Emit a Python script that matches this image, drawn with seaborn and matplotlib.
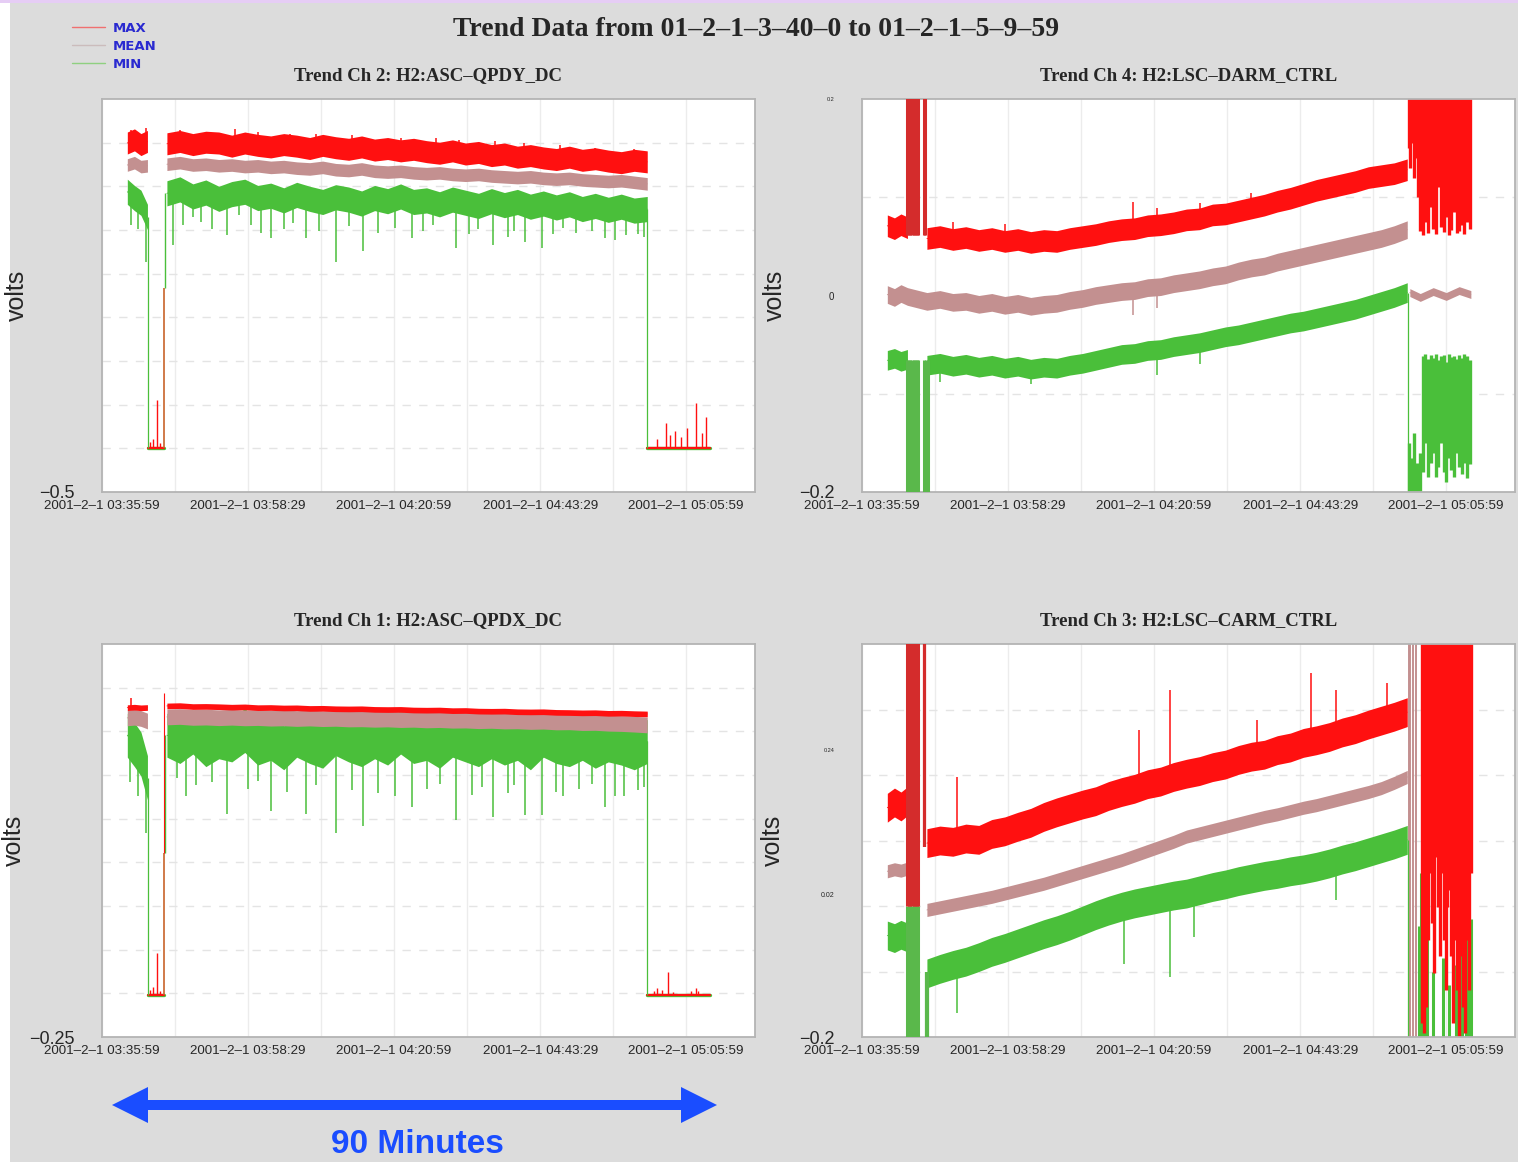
import numpy as np
import pandas as pd
import matplotlib
matplotlib.use("Agg")
import matplotlib.pyplot as plt
import seaborn as sns
from matplotlib.lines import Line2D
from matplotlib.patches import Rectangle, Polygon
from matplotlib.transforms import Affine2D

# ---------------------------------------------------------------- text / labels
SUPTITLE = "Trend Data from 01–2–1–3–40–0 to 01–2–1–5–9–59"
SERIES = ["MAX", "MEAN", "MIN"]
TITLE_TL = "Trend Ch 2: H2:ASC–QPDY_DC"
TITLE_TR = "Trend Ch 4: H2:LSC–DARM_CTRL"
TITLE_BL = "Trend Ch 1: H2:ASC–QPDX_DC"
TITLE_BR = "Trend Ch 3: H2:LSC–CARM_CTRL"
YLABEL = "volts"
X_TICKS = [0, 22.5, 45, 67.5, 90]
X_TICK_LABELS = ["2001–2–1 03:35:59", "2001–2–1 03:58:29", "2001–2–1 04:20:59",
                 "2001–2–1 04:43:29", "2001–2–1 05:05:59"]
X_GRID = [11.25, 22.5, 33.75, 45, 56.25, 67.5, 78.75, 90]
ANNOT = "90 Minutes"

# minutes after 03:35:59
T_PRE = [3.9, 5.0, 6.0, 7.0]
T_MAIN = [10, 12, 14, 16, 18, 20, 22, 24, 26, 28, 30, 32, 34, 36, 38, 40, 42, 44, 46,
          48, 50, 52, 54, 56, 58, 60, 62, 64, 66, 68, 70, 72, 74, 76, 78, 80, 82, 84]

# ---------------------------------------------------------------- Ch 2 (top left)
TL_YLIM = (-0.5, 0.0)
TL_YTICKS = [-0.5]
TL_YTICK_LABELS = ["−0.5"]
TL_MAX_PRE = [-0.056, -0.052, -0.058, -0.054]
TL_MEAN_PRE = [-0.084, -0.081, -0.086, -0.085]
TL_MIN_PRE = [-0.118, -0.126, -0.132, -0.150]
TL_MAX = [-0.057, -0.054, -0.058, -0.055, -0.056, -0.060, -0.056, -0.059, -0.061, -0.058,
          -0.060, -0.063, -0.059, -0.062, -0.064, -0.061, -0.065, -0.063, -0.066, -0.064,
          -0.067, -0.069, -0.066, -0.070, -0.068, -0.072, -0.070, -0.074, -0.072, -0.075,
          -0.077, -0.074, -0.078, -0.076, -0.079, -0.081, -0.078, -0.080]
TL_MEAN = [-0.083, -0.081, -0.084, -0.083, -0.085, -0.084, -0.086, -0.085, -0.087, -0.086,
           -0.088, -0.089, -0.087, -0.090, -0.091, -0.089, -0.092, -0.093, -0.092, -0.094,
           -0.095, -0.094, -0.096, -0.097, -0.096, -0.098, -0.099, -0.100, -0.099, -0.101,
           -0.102, -0.101, -0.103, -0.104, -0.105, -0.104, -0.106, -0.108]
TL_MIN = [-0.120, -0.115, -0.124, -0.119, -0.127, -0.121, -0.118, -0.126, -0.123, -0.129,
          -0.122, -0.127, -0.131, -0.125, -0.128, -0.133, -0.126, -0.130, -0.124, -0.131,
          -0.129, -0.134, -0.128, -0.132, -0.136, -0.130, -0.135, -0.131, -0.137, -0.133,
          -0.138, -0.134, -0.140, -0.136, -0.141, -0.137, -0.142, -0.140]
TL_HW = [0.014, 0.008, 0.016]
TL_MIN_SPIKE_T = [4.5, 5.5, 6.8, 11.0, 12.5, 14.0, 15.3, 17.0, 19.2, 21.1, 23.0, 24.5, 26.0,
                  28.0, 29.5, 31.5, 33.5, 36.0, 38.0, 40.2, 42.5, 45.1, 47.7, 49.5, 51.0, 54.5,
                  56.5, 58.0, 60.3, 62.5, 63.5, 65.2, 67.8, 69.5, 71.0, 73.0, 75.5, 77.5, 79.0,
                  80.8, 82.5, 83.5]
TL_MIN_SPIKE_V = [-0.160, -0.165, -0.207, -0.186, -0.160, -0.150, -0.156, -0.165, -0.173, -0.148,
                  -0.160, -0.170, -0.177, -0.165, -0.158, -0.177, -0.168, -0.207, -0.162, -0.194,
                  -0.170, -0.164, -0.177, -0.168, -0.160, -0.190, -0.172, -0.165, -0.186, -0.175,
                  -0.168, -0.182, -0.190, -0.172, -0.164, -0.170, -0.168, -0.177, -0.180, -0.173,
                  -0.172, -0.175]
TL_MAX_SPIKE_T = [4.5, 6.8, 12.0, 16.5, 20.5, 24.0, 29.0, 33.0, 38.5, 46.0, 51.5, 55.0, 60.5,
                  65.0, 70.5, 76.0, 82.0]
TL_MAX_SPIKE_V = [-0.040, -0.037, -0.040, -0.042, -0.038, -0.042, -0.044, -0.045, -0.046,
                  -0.050, -0.049, -0.052, -0.054, -0.056, -0.058, -0.062, -0.064]
TL_BASE = -0.444
TL_DROP = [7.1, 9.5]
TL_END = [84.0, 93.7]
TL_RESUME = -0.240
TL_BASE_SPIKE_T = [7.4, 7.9, 8.4, 9.0, 85.5, 86.9, 87.5, 88.2, 89.2, 90.1, 91.5, 92.4, 93.1]
TL_BASE_SPIKE_V = [-0.436, -0.432, -0.383, -0.438, -0.432, -0.412, -0.428, -0.423, -0.430,
                   -0.419, -0.387, -0.425, -0.404]

# ---------------------------------------------------------------- Ch 1 (bottom left)
BL_YLIM = (-0.25, 0.0)
BL_YTICKS = [-0.25]
BL_YTICK_LABELS = ["−0.25"]
BL_MAX_PRE = [-0.0405, -0.0402, -0.0406, -0.0404]
BL_MEAN_PRE = [-0.0470, -0.0466, -0.0474, -0.0490]
BL_MIN_PRE = [-0.058, -0.064, -0.070, -0.085]
BL_MAX = [-0.0394, -0.0392, -0.0398, -0.0397, -0.0399, -0.0402, -0.0400, -0.0405, -0.0404,
          -0.0407, -0.0406, -0.0410, -0.0409, -0.0412, -0.0413, -0.0412, -0.0416, -0.0417,
          -0.0416, -0.0420, -0.0421, -0.0420, -0.0424, -0.0423, -0.0427, -0.0428, -0.0427,
          -0.0431, -0.0432, -0.0431, -0.0435, -0.0436, -0.0438, -0.0437, -0.0441, -0.0440,
          -0.0443, -0.0445]
BL_MEAN = [-0.0464, -0.0461, -0.0467, -0.0465, -0.0469, -0.0466, -0.0470, -0.0468, -0.0472,
           -0.0470, -0.0474, -0.0471, -0.0475, -0.0473, -0.0477, -0.0476, -0.0479, -0.0477,
           -0.0481, -0.0479, -0.0483, -0.0481, -0.0485, -0.0484, -0.0488, -0.0486, -0.0490,
           -0.0489, -0.0493, -0.0491, -0.0496, -0.0495, -0.0500, -0.0499, -0.0504, -0.0506,
           -0.0510, -0.0515]
BL_MIN = [-0.058, -0.062, -0.056, -0.064, -0.059, -0.061, -0.055, -0.063, -0.060, -0.066,
          -0.058, -0.062, -0.065, -0.057, -0.061, -0.064, -0.059, -0.063, -0.056, -0.062,
          -0.060, -0.065, -0.058, -0.061, -0.064, -0.059, -0.063, -0.060, -0.066, -0.058,
          -0.062, -0.064, -0.060, -0.065, -0.061, -0.063, -0.066, -0.062]
BL_HW = [0.0018, 0.005, 0.014]
BL_MIN_SPIKE_T = [4.3, 5.6, 6.8, 11.5, 13.0, 14.5, 17.0, 19.2, 22.5, 24.0, 26.0, 28.5, 31.5,
                  33.0, 36.0, 38.5, 40.2, 42.5, 45.1, 47.7, 50.0, 52.0, 54.5, 57.0, 58.5, 60.3,
                  62.5, 63.5, 65.2, 67.8, 70.0, 71.0, 73.5, 75.5, 77.5, 79.0, 80.4, 82.5, 83.5]
BL_MIN_SPIKE_V = [-0.088, -0.097, -0.120, -0.085, -0.097, -0.090, -0.088, -0.108, -0.092, -0.087,
                  -0.106, -0.094, -0.108, -0.090, -0.120, -0.093, -0.116, -0.095, -0.097, -0.104,
                  -0.092, -0.089, -0.112, -0.096, -0.091, -0.110, -0.095, -0.090, -0.109, -0.109,
                  -0.094, -0.097, -0.092, -0.089, -0.104, -0.097, -0.097, -0.093, -0.091]
BL_MAX_SPIKE_T = [4.5]
BL_MAX_SPIKE_V = [-0.0344]
BL_BASE = -0.2233
BL_DROP = [7.1, 9.5]
BL_END = [84.0, 93.7]
BL_RESUME = -0.133
BL_BASE_SPIKE_T = [7.4, 7.9, 8.4, 9.0, 85.0, 85.5, 86.3, 87.2, 88.0, 90.8, 91.5, 91.8]
BL_BASE_SPIKE_V = [-0.220, -0.218, -0.1966, -0.221, -0.221, -0.219, -0.220, -0.2085, -0.2215,
                   -0.221, -0.219, -0.2205]

# ---------------------------------------------------------------- Ch 4 (top right)
TR_YLIM = (-0.2, 0.2)
TR_YTICKS = [-0.2, 0.0, 0.2]
TR_YTICK_LABELS = ["−0.2", "0", "0.2"]
TR_MAX_PRE = [0.071, 0.068, 0.072, 0.069]
TR_MEAN_PRE = [0.001, -0.002, 0.002, -0.001]
TR_MIN_PRE = [-0.066, -0.064, -0.067, -0.065]
TR_MAX = [0.058, 0.060, 0.057, 0.059, 0.056, 0.058, 0.055, 0.057, 0.054, 0.056,
          0.055, 0.058, 0.060, 0.062, 0.065, 0.067, 0.068, 0.071, 0.072, 0.074,
          0.077, 0.078, 0.082, 0.083, 0.086, 0.089, 0.092, 0.096, 0.099, 0.103,
          0.107, 0.110, 0.113, 0.116, 0.120, 0.122, 0.124, 0.128]
TR_MEAN = [-0.006, -0.004, -0.007, -0.006, -0.009, -0.007, -0.010, -0.008, -0.011, -0.009,
           -0.008, -0.005, -0.003, 0.000, 0.002, 0.004, 0.005, 0.008, 0.009, 0.012,
           0.014, 0.016, 0.019, 0.021, 0.025, 0.028, 0.030, 0.034, 0.037, 0.040,
           0.043, 0.046, 0.049, 0.052, 0.055, 0.058, 0.062, 0.067]
TR_MIN = [-0.071, -0.069, -0.072, -0.070, -0.073, -0.071, -0.074, -0.072, -0.075, -0.073,
          -0.074, -0.071, -0.069, -0.066, -0.063, -0.060, -0.059, -0.056, -0.055, -0.052,
          -0.050, -0.048, -0.045, -0.042, -0.040, -0.037, -0.034, -0.031, -0.028, -0.026,
          -0.023, -0.020, -0.017, -0.014, -0.010, -0.006, -0.002, 0.003]
TR_HW = [0.011, 0.009, 0.010]
TR_MAX_SPIKE_T = [14.0, 22.0, 41.7, 45.5, 52.0, 60.0]
TR_MAX_SPIKE_V = [0.075, 0.073, 0.0955, 0.089, 0.094, 0.104]
TR_MEAN_SPIKE_T = [41.7, 45.5]
TR_MEAN_SPIKE_V = [-0.020, -0.013]
TR_MIN_SPIKE_T = [12.0, 26.0, 45.5, 52.0]
TR_MIN_SPIKE_V = [-0.088, -0.090, -0.081, -0.070]
TR_GLITCH_MAX_T = [6.95, 7.2, 7.45, 7.7, 7.95, 8.2, 8.45, 8.7, 9.5, 9.75]
TR_GLITCH_MAX_LO = 0.062
TR_GLITCH_MIN_T = [6.95, 7.2, 7.45, 7.7, 7.95, 8.2, 8.45, 8.7, 9.55, 9.8, 10.1]
TR_GLITCH_MIN_HI = -0.066
TR_CHAOS_MAX_T = [84.2, 84.5, 84.8, 85.1, 85.4, 85.7, 86.0, 86.4, 86.8, 87.2, 87.6, 88.0, 88.4,
                  88.8, 89.2, 89.6, 90.0, 90.4, 90.8, 91.2, 91.6, 92.0, 92.4, 92.8, 93.2, 93.6]
TR_CHAOS_MAX_LO = [0.150, 0.130, 0.155, 0.120, 0.140, 0.100, 0.066, 0.062, 0.075, 0.064,
                   0.090, 0.068, 0.063, 0.110, 0.070, 0.065, 0.080, 0.062, 0.067, 0.085,
                   0.064, 0.066, 0.072, 0.063, 0.075, 0.068]
TR_CHAOS_MIN_T = [84.3, 84.7, 85.1, 85.5, 85.9, 86.4, 86.8, 87.2, 87.6, 88.0, 88.4, 88.8,
                  89.2, 89.6, 90.0, 90.4, 90.8, 91.2, 91.6, 92.0, 92.4, 92.8, 93.2, 93.6]
TR_CHAOS_MIN_HI = [-0.150, -0.165, -0.140, -0.170, -0.160, -0.062, -0.060, -0.065, -0.061,
                   -0.064, -0.060, -0.066, -0.062, -0.061, -0.068, -0.060, -0.063, -0.062,
                   -0.065, -0.061, -0.064, -0.060, -0.062, -0.066]
TR_CHAOS_MIN_LO = [-0.21, -0.21, -0.21, -0.21, -0.21, -0.180, -0.150, -0.185, -0.170, -0.160,
                   -0.185, -0.175, -0.150, -0.180, -0.190, -0.165, -0.178, -0.185, -0.160,
                   -0.175, -0.182, -0.170, -0.186, -0.172]
TR_MEAN_END_T = [84.4, 86.0, 88.0, 90.0, 92.0, 93.8]
TR_MEAN_END = [0.003, -0.002, 0.004, -0.001, 0.005, 0.001]

# ---------------------------------------------------------------- Ch 3 (bottom right)
BR_YLIM = (-0.2, 0.4)
BR_YTICKS = [-0.2, 0.017, 0.238]
BR_YTICK_LABELS = ["−0.2", "0.02", "0.24"]
BR_MAX_PRE = [0.150, 0.158, 0.152, 0.160]
BR_MEAN_PRE = [0.053, 0.056, 0.054, 0.057]
BR_MIN_PRE = [-0.045, -0.049, -0.044, -0.048]
BR_MAX = [0.096, 0.100, 0.098, 0.103, 0.101, 0.110, 0.114, 0.121, 0.127, 0.136,
          0.143, 0.149, 0.155, 0.160, 0.168, 0.174, 0.179, 0.186, 0.190, 0.197,
          0.202, 0.206, 0.212, 0.216, 0.223, 0.228, 0.231, 0.238, 0.242, 0.249,
          0.253, 0.258, 0.265, 0.270, 0.277, 0.283, 0.289, 0.296]
BR_MEAN = [-0.006, -0.002, 0.002, 0.006, 0.010, 0.014, 0.019, 0.024, 0.029, 0.034,
           0.040, 0.046, 0.052, 0.058, 0.064, 0.070, 0.077, 0.084, 0.091, 0.098,
           0.106, 0.111, 0.116, 0.121, 0.126, 0.131, 0.136, 0.140, 0.145, 0.150,
           0.154, 0.159, 0.164, 0.169, 0.174, 0.180, 0.188, 0.197]
BR_MIN = [-0.103, -0.096, -0.090, -0.085, -0.078, -0.070, -0.064, -0.057, -0.050, -0.043,
          -0.037, -0.030, -0.022, -0.014, -0.007, -0.001, 0.004, 0.008, 0.012, 0.016,
          0.019, 0.024, 0.029, 0.033, 0.038, 0.042, 0.046, 0.049, 0.053, 0.056,
          0.060, 0.065, 0.071, 0.076, 0.082, 0.088, 0.094, 0.101]
BR_HW = [0.022, 0.010, 0.022]
BR_MAX_SPIKE_T = [14.6, 42.7, 47.5, 60.8, 69.2, 73.1, 80.9]
BR_MAX_SPIKE_V = [0.197, 0.269, 0.330, 0.284, 0.355, 0.330, 0.340]
BR_MIN_SPIKE_T = [14.6, 40.4, 47.5, 51.1, 73.1]
BR_MIN_SPIKE_V = [-0.164, -0.088, -0.108, -0.047, 0.009]
BR_GLITCH_T = [6.95, 7.2, 7.45, 7.7, 7.95, 8.2, 8.45, 8.7]
BR_GLITCH_SPLIT = 0.0
BR_GLITCH_MAX_LINE_T = [9.5, 9.75]
BR_GLITCH_MAX_LINE_LO = 0.09
BR_GLITCH_MIN_LINE_T = [9.9, 10.15]
BR_GLITCH_MIN_LINE_HI = -0.10
BR_CHAOS_MEAN_T = [84.2, 84.5, 84.9, 85.3]
BR_CHAOS_MAX_T = [86.3, 86.6, 86.9, 87.2, 87.5, 87.8, 88.1, 88.4, 88.7, 89.0, 89.3, 89.6, 89.9,
                  90.2, 90.5, 90.8, 91.1, 91.4, 91.7, 92.0, 92.3, 92.6, 92.9, 93.2, 93.5, 93.8]
BR_CHAOS_MAX_LO = [-0.179, -0.194, -0.154, -0.052, 0.050, -0.026, -0.103, 0.075, -0.001, -0.077,
                   0.050, -0.052, -0.128, -0.001, 0.024, -0.077, -0.179, -0.052, -0.128, -0.205,
                   -0.077, -0.154, -0.194, -0.052, -0.128, 0.050]
BR_CHAOS_MIN_T = [85.8, 86.1, 86.4, 86.7, 87.0, 88.0, 89.5, 90.5, 91.5, 92.5, 93.0, 93.4, 93.8]
BR_CHAOS_MIN_HI = [-0.03, 0.05, 0.02, 0.06, -0.05, -0.10, -0.08, -0.12, -0.09, -0.06, 0.05,
                   0.03, -0.02]

# ---------------------------------------------------------------- style
W, H = 1518, 1162
C_MAX, C_MEAN, C_MIN = "#ff1010", "#c39090", "#4abf3a"
C_GMAX, C_GMIN, C_ORANGE = "#d42c2c", "#5ab84b", "#c8642a"
BG = "#dcdcdc"

sns.set_style("white")
plt.rcParams["font.family"] = ["Liberation Sans", "DejaVu Sans"]

fig = plt.figure(figsize=(W / 100, H / 100), dpi=100)
fig.patch.set_facecolor("white")
pxT = Affine2D().scale(1 / W, -1 / H).translate(0, 1) + fig.transFigure
fig.add_artist(Rectangle((10, 3), W - 10, H - 3, transform=pxT, facecolor=BG,
                         edgecolor="none", zorder=-10))
fig.add_artist(Rectangle((0, 0), W, 3, transform=pxT, facecolor="#e6cdf5",
                         edgecolor="none", zorder=-10))


def band(ax, t, c, hw, color, lw=0.6):
    t = np.asarray(t, float)
    c = np.asarray(c, float)
    df = pd.DataFrame({"time": np.concatenate([t, t]),
                       "volts": np.concatenate([c - hw, c + hw])})
    sns.lineplot(data=df, x="time", y="volts", ax=ax, color=color, linewidth=lw,
                 estimator="mean", errorbar=("pi", 100),
                 err_kws={"alpha": 1.0, "linewidth": 0}, legend=False)


def spikes(ax, t, c, st, sv, color, lw=1.1):
    base = np.interp(st, t, c)
    ax.vlines(st, base, sv, color=color, lw=lw, zorder=1.5)


def setup(ax, title, ylim, yticks, ylabels, hdiv, ylab_x, yfs=None):
    ax.set_xlim(0, 100.6)
    ax.set_ylim(*ylim)
    ax.set_facecolor("white")
    ax.set_title(title, fontsize=13.5, family=["Liberation Serif", "DejaVu Serif"],
                 weight="bold", pad=14)
    ax.set_xticks(X_TICKS)
    ax.set_xticklabels(X_TICK_LABELS, fontsize=9.6)
    ax.set_xticks(X_GRID, minor=True)
    ax.set_yticks(yticks)
    ax.set_yticklabels(ylabels, fontsize=13)
    if yfs is not None:
        for lab, fs in zip(ax.get_yticklabels(), yfs):
            lab.set_fontsize(fs)
    hg = [ylim[0] + (ylim[1] - ylim[0]) * k / hdiv for k in range(1, hdiv)]
    ax.set_yticks(hg, minor=True)
    ax.tick_params(axis="both", which="both", length=0)
    ax.tick_params(axis="x", pad=6)
    ax.tick_params(axis="y", pad=20)
    ax.grid(True, which="minor", axis="x", color="#ececec", lw=1.0)
    ax.grid(True, which="major", axis="x", color="#ececec", lw=1.0)
    ax.grid(True, which="minor", axis="y", color="#e4e4e4", lw=1.0, ls=(0, (6, 6)))
    ax.set_axisbelow(True)
    ax.set_xlabel("")
    ax.set_ylabel(YLABEL, fontsize=18)
    ax.yaxis.set_label_coords(ylab_x, 0.5)
    for s in ax.spines.values():
        s.set_color("#b4b4b4")
        s.set_linewidth(1.3)


AX_W, AX_H = 653 / W, 393 / H
ax_tl = fig.add_axes([102 / W, 1 - 492 / H, AX_W, AX_H])
ax_tr = fig.add_axes([862 / W, 1 - 492 / H, AX_W, AX_H])
ax_bl = fig.add_axes([102 / W, 1 - 1037 / H, AX_W, AX_H])
ax_br = fig.add_axes([862 / W, 1 - 1037 / H, AX_W, AX_H])


# ---------------- QPD panels (left column)
def qpd_panel(ax, pre, main, hw, min_sp, max_sp, base, drop, end, resume, base_sp, red_top=None):
    (mx_p, me_p, mn_p), (mx, me, mn) = pre, main
    for t0, t1 in (drop, end):
        ax.plot([t0, t1], [base, base], color=C_MIN, lw=2.4, zorder=1.2)
        ax.plot([t0, t1], [base, base], color=C_MAX, lw=1.6, zorder=1.3)
    ax.vlines(base_sp[0], base, base_sp[1], color=C_MAX, lw=1.0, zorder=1.3)
    ax.vlines([drop[0]], base, mn_p[-1], color=C_MIN, lw=0.9)
    ax.vlines([drop[1]], base, resume, color=C_ORANGE, lw=1.2)
    ax.vlines([drop[1] + 0.25], resume, mn[0], color=C_MIN, lw=1.0)
    if red_top is not None:
        ax.vlines([drop[1] + 0.1], resume, red_top, color=C_MAX, lw=0.8)
    ax.vlines([end[0]], base, mn[-1], color=C_MIN, lw=0.9)
    spikes(ax, T_PRE + T_MAIN, mn_p + mn, min_sp[0], min_sp[1], C_MIN)
    for seg_t, vals in ((T_PRE, (mx_p, me_p, mn_p)), (T_MAIN, (mx, me, mn))):
        band(ax, seg_t, vals[2], hw[2], C_MIN)
        band(ax, seg_t, vals[1], hw[1], C_MEAN)
        band(ax, seg_t, vals[0], hw[0], C_MAX)
    spikes(ax, T_PRE + T_MAIN, mx_p + mx, max_sp[0], max_sp[1], C_MAX)


qpd_panel(ax_tl, (TL_MAX_PRE, TL_MEAN_PRE, TL_MIN_PRE), (TL_MAX, TL_MEAN, TL_MIN), TL_HW,
          (TL_MIN_SPIKE_T, TL_MIN_SPIKE_V), (TL_MAX_SPIKE_T, TL_MAX_SPIKE_V),
          TL_BASE, TL_DROP, TL_END, TL_RESUME, (TL_BASE_SPIKE_T, TL_BASE_SPIKE_V))
qpd_panel(ax_bl, (BL_MAX_PRE, BL_MEAN_PRE, BL_MIN_PRE), (BL_MAX, BL_MEAN, BL_MIN), BL_HW,
          (BL_MIN_SPIKE_T, BL_MIN_SPIKE_V), (BL_MAX_SPIKE_T, BL_MAX_SPIKE_V),
          BL_BASE, BL_DROP, BL_END, BL_RESUME, (BL_BASE_SPIKE_T, BL_BASE_SPIKE_V),
          red_top=-0.031)

# ---------------- Ch 4 (top right)
ax = ax_tr
ax.vlines(TR_CHAOS_MIN_T, TR_CHAOS_MIN_LO, TR_CHAOS_MIN_HI, color=C_MIN, lw=2.4, zorder=1.1)
ax.vlines(TR_CHAOS_MAX_T, TR_CHAOS_MAX_LO, 0.25, color=C_MAX, lw=2.4, zorder=1.1)
ax.vlines([84.1], -0.25, TR_MIN[-1], color=C_MIN, lw=0.9)
band(ax, TR_MEAN_END_T, TR_MEAN_END, 0.004, C_MEAN)
band(ax, T_PRE, TR_MIN_PRE, TR_HW[2], C_MIN)
band(ax, T_MAIN, TR_MIN, TR_HW[2], C_MIN)
band(ax, T_PRE + T_MAIN, TR_MEAN_PRE + TR_MEAN, TR_HW[1], C_MEAN)
band(ax, T_PRE, TR_MAX_PRE, TR_HW[0], C_MAX)
band(ax, T_MAIN, TR_MAX, TR_HW[0], C_MAX)
spikes(ax, T_MAIN, TR_MAX, TR_MAX_SPIKE_T, TR_MAX_SPIKE_V, C_MAX)
spikes(ax, T_MAIN, TR_MEAN, TR_MEAN_SPIKE_T, TR_MEAN_SPIKE_V, C_MEAN)
spikes(ax, T_MAIN, TR_MIN, TR_MIN_SPIKE_T, TR_MIN_SPIKE_V, C_MIN)
ax.vlines(TR_GLITCH_MIN_T, -0.25, TR_GLITCH_MIN_HI, color=C_GMIN, lw=2.2, zorder=3)
ax.vlines(TR_GLITCH_MAX_T, TR_GLITCH_MAX_LO, 0.25, color=C_GMAX, lw=2.2, zorder=3)

# ---------------- Ch 3 (bottom right)
ax = ax_br
ax.vlines(BR_CHAOS_MEAN_T, -0.25, 0.45, color=C_MEAN, lw=1.4, zorder=1.1)
ax.vlines(BR_CHAOS_MIN_T, -0.25, BR_CHAOS_MIN_HI, color=C_MIN, lw=2.2, zorder=1.1)
ax.vlines(BR_CHAOS_MAX_T, BR_CHAOS_MAX_LO, 0.45, color=C_MAX, lw=2.4, zorder=1.15)
ax.vlines([84.1], -0.25, BR_MIN[-1], color=C_MIN, lw=0.9)
spikes(ax, T_MAIN, BR_MIN, BR_MIN_SPIKE_T, BR_MIN_SPIKE_V, C_MIN)
band(ax, T_PRE, BR_MIN_PRE, BR_HW[2], C_MIN)
band(ax, T_MAIN, BR_MIN, BR_HW[2], C_MIN)
band(ax, T_PRE, BR_MEAN_PRE, BR_HW[1], C_MEAN)
band(ax, T_MAIN, BR_MEAN, BR_HW[1], C_MEAN)
band(ax, T_PRE, BR_MAX_PRE, BR_HW[0], C_MAX)
band(ax, T_MAIN, BR_MAX, BR_HW[0], C_MAX)
spikes(ax, T_MAIN, BR_MAX, BR_MAX_SPIKE_T, BR_MAX_SPIKE_V, C_MAX)
ax.vlines(BR_GLITCH_T, -0.25, BR_GLITCH_SPLIT, color=C_GMIN, lw=2.2, zorder=3)
ax.vlines(BR_GLITCH_T, BR_GLITCH_SPLIT, 0.45, color=C_GMAX, lw=2.2, zorder=3)
ax.vlines(BR_GLITCH_MAX_LINE_T, BR_GLITCH_MAX_LINE_LO, 0.45, color=C_GMAX, lw=1.6, zorder=3)
ax.vlines(BR_GLITCH_MIN_LINE_T, -0.25, BR_GLITCH_MIN_LINE_HI, color=C_GMIN, lw=1.6, zorder=3)

# ---------------- axes cosmetics
setup(ax_tl, TITLE_TL, TL_YLIM, TL_YTICKS, TL_YTICK_LABELS, 9, -0.112)
setup(ax_bl, TITLE_BL, BL_YLIM, BL_YTICKS, BL_YTICK_LABELS, 9, -0.117)
setup(ax_tr, TITLE_TR, TR_YLIM, TR_YTICKS, TR_YTICK_LABELS, 4, -0.115, yfs=[13, 7, 4])
setup(ax_br, TITLE_BR, BR_YLIM, BR_YTICKS, BR_YTICK_LABELS, 6, -0.118, yfs=[13, 5, 4])

# ---------------- figure title, legend, annotation
fig.text(756 / W, 1 - 29 / H, SUPTITLE, ha="center", va="center", fontsize=20,
         family=["Liberation Serif", "DejaVu Serif"], weight="bold")
handles = [Line2D([], [], color=c, lw=1.0) for c in ("#f07070", "#cbbcbc", "#8fd080")]
fig.legend(handles, SERIES, loc="upper left", bbox_to_anchor=(72 / W, 1 - 22 / H),
           frameon=False, labelcolor="#2a2ad0", handlelength=2.5, handletextpad=0.6,
           labelspacing=0.38, borderpad=0, borderaxespad=0,
           prop={"family": "DejaVu Sans", "weight": "bold", "size": 9.5})

ARROW = "#1a4dff"
fig.add_artist(Polygon([[112, 1105], [148, 1087], [148, 1123]], closed=True, transform=pxT,
                       facecolor=ARROW, edgecolor="none"))
fig.add_artist(Polygon([[717, 1105], [681, 1087], [681, 1123]], closed=True, transform=pxT,
                       facecolor=ARROW, edgecolor="none"))
fig.add_artist(Rectangle((146, 1100), 537, 10, transform=pxT, facecolor=ARROW,
                         edgecolor="none"))
fig.text(417 / W, 1 - 1153 / H, ANNOT, ha="center", va="baseline", fontsize=24,
         weight="bold", color=ARROW, family=["Liberation Sans", "DejaVu Sans"])

fig.savefig("out.png", dpi=100, facecolor=fig.get_facecolor())
